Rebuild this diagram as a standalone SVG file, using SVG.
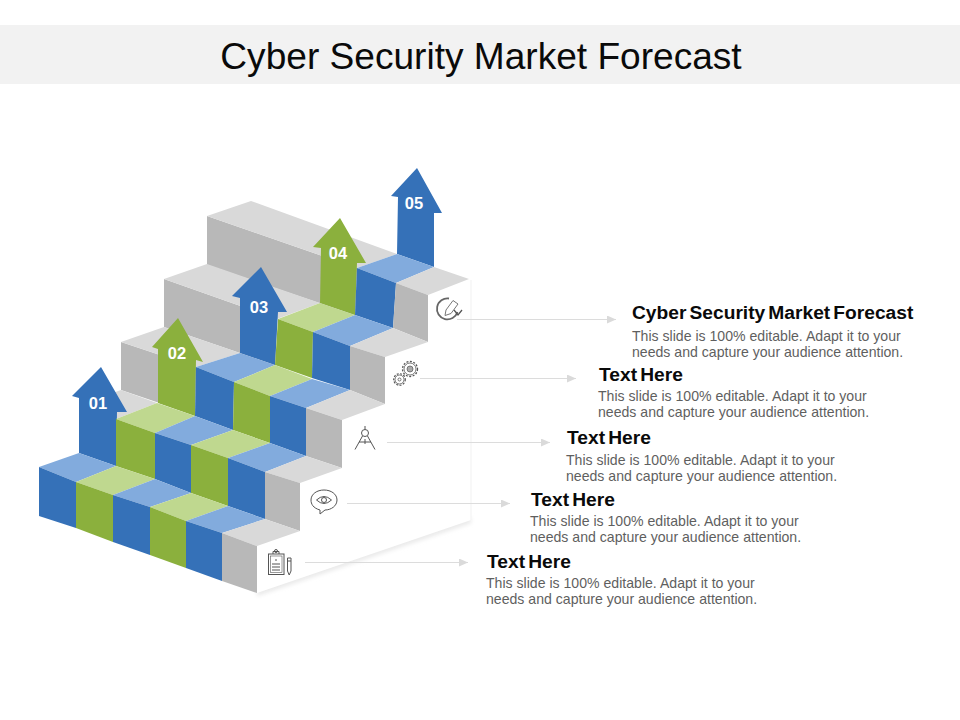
<svg xmlns="http://www.w3.org/2000/svg" width="960" height="720" viewBox="0 0 960 720">
<style>
text{font-family:"Liberation Sans",Arial,sans-serif}
.title{font-size:37.1px;fill:#0a0a0a}
.h{font-size:19.2px;font-weight:700;fill:#0a0a0a;word-spacing:-2.2px}
.b{font-size:14.1px;fill:#5f5f5f}
.n{font-size:16.5px;font-weight:700;fill:#fff;text-anchor:middle}
.bd{fill:#3571B8}.bl{fill:#82ABDD}.gd{fill:#8BB03D}.gl{fill:#BFD88F}.yd{fill:#B8B8B8}.yl{fill:#D9D9D9}
.ln{stroke:#DCDCDC;stroke-width:1;fill:none}
.ic{fill:none;stroke:#555;stroke-width:1}
</style>
<defs>
<marker id="ah" markerUnits="userSpaceOnUse" markerWidth="9" markerHeight="8" refX="9" refY="4" orient="auto"><path d="M0,0L9,4L0,8z" fill="#DADADA"/></marker>
<filter id="soft" x="-10%" y="-30%" width="120%" height="160%"><feGaussianBlur stdDeviation="2"/></filter>
</defs>
<rect id="title-band" x="0" y="25" width="960" height="59" fill="#F2F2F2"/>
<text class="title" x="481" y="69" text-anchor="middle">Cyber Security Market Forecast</text>

<g id="panel">
<path d="M257,596L471,523L471,517L257,590z" fill="#E8E8E8" filter="url(#soft)"/>
<path d="M257,593L471,520L469,279L428,295L428,342L385,357L385,404L342,420L342,468L300,483L300,531L257,546z" fill="#fff"/>
<path d="M471,280V520" stroke="#F6F6F6" stroke-width="1.5" fill="none"/>
</g>

<g id="stairs-back">
<polygon class="yd" points="207,216 357,268 355,315 207,265"/>
<polygon class="yl" points="207,216 251,201 397,254 357,268"/>
<polygon class="yd" points="164,279 277,319 275,365 164,327"/>
<polygon class="yl" points="164,279 207,264 320,303 277,319"/>
<polygon class="yd" points="121,342 196,367 195,415 121,390"/>
<polygon class="yl" points="121,342 164,327 240,353 196,367"/>
<polygon class="yl" points="79,405 121,390 157,403 116,419"/>
</g>

<g id="arrow-01"><polygon class="bd" points="101,367 127,412 117,412 116,466 79,453 79,398 72,396"/><text class="n" x="98" y="409">01</text></g>
<g id="arrow-02"><polygon class="gd" points="178,318 203,362 196,360 195,416 158,403 158,349 152,347"/><text class="n" x="177" y="359">02</text></g>
<g id="arrow-03"><polygon class="bd" points="261,267 287,312 278,312 275,365 240,353 240,298 232,296"/><text class="n" x="259" y="313">03</text></g>
<g id="arrow-04"><polygon class="gd" points="340,218 366,263 357,263 355,315 320,303 321,248 313,247"/><text class="n" x="338" y="259">04</text></g>
<g id="arrow-05"><polygon class="bd" points="417,168 442,213 434,213 434,267 397,254 398,197 391,196"/><text class="n" x="414" y="209">05</text></g>

<g id="step-5">
<polygon class="bl" points="357,268 396,283 434,267 397,254"/>
<polygon class="yl" points="396,283 428,295 469,279 434,267"/>
<polygon class="bd" points="357,268 396,283 393,328 355,315"/>
<polygon class="yd" points="396,283 428,295 428,342 393,328"/>
</g>
<g id="step-4">
<polygon class="gl" points="278,319 313,332 355,315 320,303"/>
<polygon class="bl" points="313,332 350,346 393,328 355,315"/>
<polygon class="yl" points="350,346 385,357 428,342 393,328"/>
<polygon class="gd" points="278,319 313,332 312,378 275,365"/>
<polygon class="bd" points="313,332 350,346 350,390 312,378"/>
<polygon class="yd" points="350,346 385,357 385,404 350,390"/>
</g>
<g id="step-3">
<polygon class="bl" points="196,367 234,382 275,365 240,353"/>
<polygon class="gl" points="234,382 270,396 312,379 275,365"/>
<polygon class="bl" points="270,396 306,408 350,390 312,379"/>
<polygon class="yl" points="306,408 342,420 385,404 350,390"/>
<polygon class="bd" points="196,367 234,382 233,430 195,416"/>
<polygon class="gd" points="234,382 270,396 270,443 233,430"/>
<polygon class="bd" points="270,396 306,408 306,456 270,443"/>
<polygon class="yd" points="306,408 342,420 342,468 306,456"/>
</g>
<g id="step-2">
<polygon class="gl" points="116,419 155,433 195,416 157,403"/>
<polygon class="bl" points="155,433 191,445 233,430 195,416"/>
<polygon class="gl" points="191,445 228,458 270,443 233,430"/>
<polygon class="bl" points="228,458 265,472 306,456 270,443"/>
<polygon class="yl" points="265,472 300,483 342,468 306,456"/>
<polygon class="gd" points="116,419 155,433 155,479 116,466"/>
<polygon class="bd" points="155,433 191,445 191,493 155,479"/>
<polygon class="gd" points="191,445 228,458 228,506 191,493"/>
<polygon class="bd" points="228,458 265,472 265,519 228,506"/>
<polygon class="yd" points="265,472 300,483 300,531 265,519"/>
</g>
<g id="step-1">
<polygon class="bl" points="39,467 76,482 116,466 79,453"/>
<polygon class="gl" points="76,482 113,495 155,479 116,466"/>
<polygon class="bl" points="113,495 150,507 191,493 155,479"/>
<polygon class="gl" points="150,507 186,521 228,506 191,493"/>
<polygon class="bl" points="186,521 222,533 265,519 228,506"/>
<polygon class="yl" points="222,533 257,546 300,531 265,519"/>
<polygon class="bd" points="39,467 76,482 76,528 39,516"/>
<polygon class="gd" points="76,482 113,495 113,542 76,528"/>
<polygon class="bd" points="113,495 150,507 150,555 113,542"/>
<polygon class="gd" points="150,507 186,521 186,568 150,555"/>
<polygon class="bd" points="186,521 222,533 222,581 186,568"/>
<polygon class="yd" points="222,533 257,546 257,593 222,581"/>
</g>

<g id="connectors">
<path class="ln" d="M457,319.5H616" marker-end="url(#ah)"/>
<path class="ln" d="M420,378.5H576" marker-end="url(#ah)"/>
<path class="ln" d="M387,442.5H550" marker-end="url(#ah)"/>
<path class="ln" d="M347,503.5H510" marker-end="url(#ah)"/>
<path class="ln" d="M305,562.5H468" marker-end="url(#ah)"/>
</g>

<g id="item-1">
<g class="ic" stroke="#666"><path d="M449,298.500A10.500,10.500 0 1 0 457.500,312" stroke-width="1.800" stroke="#666"/><path d="M446,310L453,300.500L458,304L451,313.500L445,315.500z" stroke="#777"/><path d="M454,310L458,315L462,310" stroke-width="1.300"/></g>
<text class="h" x="632" y="319">Cyber Security Market Forecast</text>
<text class="b" x="632" y="341">This slide is 100% editable. Adapt it to your</text>
<text class="b" x="632" y="357">needs and capture your audience attention.</text>
</g>
<g id="item-2">
<g class="ic"><circle cx="410" cy="369" r="7.500" stroke-width="1.300" stroke-dasharray="2 1.500"/><circle cx="410" cy="369" r="6" stroke-width=".8"/><circle cx="410" cy="369" r="3" fill="#aaa" stroke-width=".7"/><circle cx="399.500" cy="379.500" r="5.800" stroke-width="1.200" stroke-dasharray="2 1.400"/><circle cx="399.500" cy="379.500" r="4.500" stroke-width=".8"/><circle cx="399.500" cy="379.500" r="1.500" stroke-width=".8"/></g>
<text class="h" x="599" y="381">Text Here</text>
<text class="b" x="598" y="401">This slide is 100% editable. Adapt it to your</text>
<text class="b" x="598" y="417">needs and capture your audience attention.</text>
</g>
<g id="item-3">
<g class="ic"><circle cx="365" cy="433" r="3.500"/><path d="M365,426V429.500M362.500,436L355,449.500M367.500,436L375,449.500M359,442H371M365,439V444"/></g>
<text class="h" x="567" y="444">Text Here</text>
<text class="b" x="566" y="465">This slide is 100% editable. Adapt it to your</text>
<text class="b" x="566" y="481">needs and capture your audience attention.</text>
</g>
<g id="item-4">
<g class="ic" stroke-width="1.1"><path d="M320,510C313,508 311,504 311,500C311,494 317,490 324,490C331,490 337,494 337,500C337,506 331,510 325,510L320,514z"/><path d="M316.500,500Q324,493 331.500,500Q324,507 316.500,500z"/><circle cx="324" cy="500" r="2.500"/></g>
<text class="h" x="531" y="506">Text Here</text>
<text class="b" x="530" y="526">This slide is 100% editable. Adapt it to your</text>
<text class="b" x="530" y="542">needs and capture your audience attention.</text>
</g>
<g id="item-5">
<g class="ic"><rect x="268.500" y="554" width="15.500" height="20.500"/><rect x="270.500" y="556" width="11.500" height="16.500" stroke-width=".6"/><path d="M273,554V551.500H279V554"/><circle cx="276" cy="551" r="1.500"/><path d="M272,564H280M272,567H280M272,570H280" stroke-width="1.200"/><path d="M275,560H277"/><path d="M287.500,558H291V571L289.200,575L287.500,571zM287.500,561H291"/></g>
<text class="h" x="487" y="568">Text Here</text>
<text class="b" x="486" y="588">This slide is 100% editable. Adapt it to your</text>
<text class="b" x="486" y="604">needs and capture your audience attention.</text>
</g>
</svg>
